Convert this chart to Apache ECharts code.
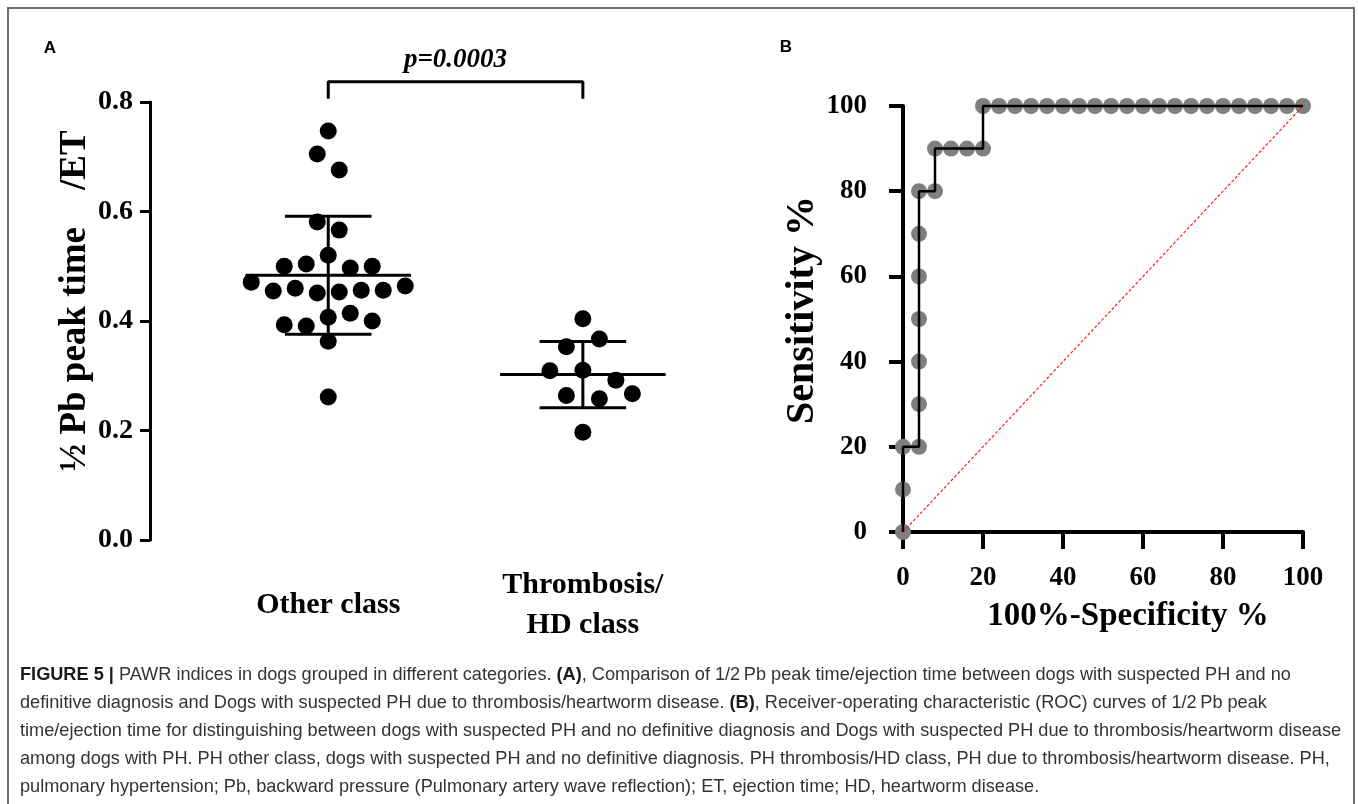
<!DOCTYPE html>
<html><head><meta charset="utf-8">
<script src="https://cdn.jsdelivr.net/npm/echarts@6/dist/echarts.min.js"></script>
<style>html,body{margin:0;padding:0;background:#fff}#c{width:1358px;height:804px}</style>
</head><body><div id="c"></div>
<script>
// ---------- data ----------
const categories = ['Other class', 'Thrombosis/\nHD class'];
const otherValues = [0.747, 0.705, 0.676, 0.581, 0.566, 0.500, 0.504, 0.520, 0.497, 0.500,
  0.471, 0.455, 0.460, 0.451, 0.453, 0.456, 0.456, 0.464,
  0.393, 0.391, 0.407, 0.414, 0.400, 0.363, 0.261];
const thrombosisValues = [0.404, 0.353, 0.367, 0.309, 0.310, 0.292, 0.264, 0.258, 0.267, 0.197];
const yTicksA = [0, 0.2, 0.4, 0.6, 0.8];
const pValueText = 'p=0.0003';
const bracketTop = 0.837;
const bracketFoot = 0.806;

const rocFpr = [0, 0, 0, 4, 4, 4, 4, 4, 4, 4, 8, 8, 12, 16, 20, 20,
  24, 28, 32, 36, 40, 44, 48, 52, 56, 60, 64, 68, 72, 76, 80, 84, 88, 92, 96, 100];
const rocSens = [0, 10, 20, 20, 30, 40, 50, 60, 70, 80, 80, 90, 90, 90, 90, 100,
  100, 100, 100, 100, 100, 100, 100, 100, 100, 100, 100, 100, 100, 100, 100, 100, 100, 100, 100, 100];
const ticksB = [0, 20, 40, 60, 80, 100];
const refLine = [[0, 0], [100, 100]];

const captionLines = [
  '{b|FIGURE 5 |}{n| PAWR indices in dogs grouped in different categories. }{b|(A)}{n|, Comparison of 1/2\u2009Pb peak time/ejection time between dogs with suspected PH and no}',
  '{n|definitive diagnosis and Dogs with suspected PH due to thrombosis/heartworm disease. }{b|(B)}{n|, Receiver-operating characteristic (ROC) curves of 1/2\u2009Pb peak}',
  '{n|time/ejection time for distinguishing between dogs with suspected PH and no definitive diagnosis and Dogs with suspected PH due to thrombosis/heartworm disease}',
  '{n|among dogs with PH. PH other class, dogs with suspected PH and no definitive diagnosis. PH thrombosis/HD class, PH due to thrombosis/heartworm disease. PH,}',
  '{n|pulmonary hypertension; Pb, backward pressure (Pulmonary artery wave reflection); ET, ejection time; HD, heartworm disease.}'
];

// ---------- helpers ----------
const serif = "'Liberation Serif', 'Times New Roman', serif";
function fontAvailable(name) {
  const c = document.createElement('canvas').getContext('2d');
  const t = 'abcdefghijklmnopqrstuvwxyz ABCDEFGHIJ 0123456789';
  c.font = '40px monospace'; const a = c.measureText(t).width;
  c.font = `40px '${name}', monospace`; const b = c.measureText(t).width;
  c.font = '40px serif'; const a2 = c.measureText(t).width;
  c.font = `40px '${name}', serif`; const b2 = c.measureText(t).width;
  return a !== b && a2 !== b2;
}
const capFont = fontAvailable('Liberation Sans Narrow') ? "'Liberation Sans Narrow'" : "'Liberation Sans'";
const capFamily = capFont + ", Arial, sans-serif";
function fitCaptionSize() {
  const c = document.createElement('canvas').getContext('2d');
  const plain = captionLines[2].replace(/\{[a-z]+\|/g, '').replace(/\}/g, '');
  c.font = `20px ${capFamily}`;
  const w = c.measureText(plain).width;
  return Math.max(13, Math.min(21, 20 * 1322 / w));
}
const capSize = fitCaptionSize();

function mean(a) { return a.reduce((s, v) => s + v, 0) / a.length; }
function sd(a) { const m = mean(a); return Math.sqrt(a.reduce((s, v) => s + (v - m) * (v - m), 0) / (a.length - 1)); }

const DOT = 17;
// Row-based beeswarm: pixel scales come from the chart's own axes.
function swarm(values, center, spacingPx, pxX, pxY) {
  const idx = values.map((v, i) => i).sort((a, b) => values[b] - values[a]);
  const rows = [];
  let cur = null;
  idx.forEach(i => {
    const yp = values[i] * pxY;
    if (!cur || cur.start - yp >= DOT) { cur = { start: yp, items: [] }; rows.push(cur); }
    cur.items.push(i);
  });
  const placed = [];
  const out = new Array(values.length);
  rows.forEach(r => {
    r.items.sort((a, b) => a - b);
    const n = r.items.length;
    const base = r.items.map((i, j) => (j - (n - 1) / 2) * spacingPx);
    let shift = 0;
    for (const s of [0, spacingPx / 2, -spacingPx / 2]) {
      let ok = true;
      r.items.forEach((i, j) => {
        const x = base[j] + s, y = values[i] * pxY;
        placed.forEach(p => { if (Math.hypot(p[0] - x, p[1] - y) < DOT + 1) ok = false; });
      });
      if (ok) { shift = s; break; }
    }
    r.items.forEach((i, j) => {
      const x = base[j] + shift;
      placed.push([x, values[i] * pxY]);
      out[i] = [center + x / pxX, values[i]];
    });
  });
  return out;
}

// ---------- chart ----------
const chart = echarts.init(document.getElementById('c'), null, { renderer: 'canvas' });
const boldSerif = (size) => ({ fontFamily: serif, fontWeight: 'bold', fontSize: size, color: '#000' });

const errData = [[1, mean(otherValues), sd(otherValues)], [2, mean(thrombosisValues), sd(thrombosisValues)]];

const option = {
  animation: false,
  backgroundColor: '#fff',
  grid: [
    { left: 150, top: 102, width: 550, height: 438 },
    { left: 903, top: 106, width: 400, height: 426 }
  ],
  xAxis: [
    {
      gridIndex: 0, type: 'value', min: 0.3, max: 2.46,
      axisLine: { show: false }, axisTick: { show: false }, splitLine: { show: false },
      axisLabel: Object.assign(boldSerif(30), {
        customValues: [1, 2], formatter: v => categories[Math.round(v) - 1] || '',
        lineHeight: 40, verticalAlign: 'middle', margin: 65
      })
    },
    {
      gridIndex: 1, type: 'value', min: ticksB[0], max: ticksB[ticksB.length - 1], interval: 20,
      axisLine: { show: true, onZero: false, lineStyle: { color: '#000', width: 4 } },
      axisTick: { show: true, length: 17, lineStyle: { color: '#000', width: 4 } },
      splitLine: { show: false },
      axisLabel: Object.assign(boldSerif(27), { margin: 33 }),
      name: '100%-Specificity %', nameLocation: 'middle', nameGap: 68,
      nameTextStyle: Object.assign(boldSerif(33), { padding: [0, 0, 0, 50] })
    }
  ],
  yAxis: [
    {
      gridIndex: 0, type: 'value', min: yTicksA[0], max: yTicksA[yTicksA.length - 1], interval: 0.2,
      axisLine: { show: true, lineStyle: { color: '#000', width: 3 } },
      axisTick: { show: true, length: 10, lineStyle: { color: '#000', width: 3 } },
      splitLine: { show: false },
      axisLabel: Object.assign(boldSerif(28), { formatter: v => v.toFixed(1), margin: 17 }),
      name: '\u00BD Pb peak time    /ET', nameLocation: 'middle', nameRotate: 90, nameGap: 45,
      nameTextStyle: Object.assign(boldSerif(37), { padding: [0, 0, 0, 40] })
    },
    {
      gridIndex: 1, type: 'value', min: ticksB[0], max: ticksB[ticksB.length - 1], interval: 20,
      axisLine: { show: true, onZero: false, lineStyle: { color: '#000', width: 4 } },
      axisTick: { show: true, length: 14, lineStyle: { color: '#000', width: 4 } },
      splitLine: { show: false },
      axisLabel: Object.assign(boldSerif(27), { margin: 36 }),
      name: 'Sensitivity %', nameLocation: 'middle', nameRotate: 90, nameGap: 73,
      nameTextStyle: Object.assign(boldSerif(40), { padding: [0, 0, 0, 18] })
    }
  ],
  series: [
    { id: 'other', type: 'scatter', xAxisIndex: 0, yAxisIndex: 0, symbolSize: DOT, itemStyle: { color: '#000', opacity: 1 }, data: [], clip: false, z: 2 },
    { id: 'thromb', type: 'scatter', xAxisIndex: 0, yAxisIndex: 0, symbolSize: DOT, itemStyle: { color: '#000', opacity: 1 }, data: [], clip: false, z: 2 },
    {
      type: 'custom', xAxisIndex: 0, yAxisIndex: 0, data: errData, z: 3, clip: false,
      renderItem: (params, api) => {
        const x = api.value(0), m = api.value(1), s = api.value(2);
        const mL = api.coord([x - 0.325, m]), mR = api.coord([x + 0.325, m]);
        const hiL = api.coord([x - 0.17, m + s]), hiR = api.coord([x + 0.17, m + s]);
        const loL = api.coord([x - 0.17, m - s]), loR = api.coord([x + 0.17, m - s]);
        const vt = api.coord([x, m + s]), vb = api.coord([x, m - s]);
        const st = { stroke: '#000', lineWidth: 3 };
        return {
          type: 'group', children: [
            { type: 'line', shape: { x1: mL[0], y1: mL[1], x2: mR[0], y2: mR[1] }, style: st },
            { type: 'line', shape: { x1: hiL[0], y1: hiL[1], x2: hiR[0], y2: hiR[1] }, style: st },
            { type: 'line', shape: { x1: loL[0], y1: loL[1], x2: loR[0], y2: loR[1] }, style: st },
            { type: 'line', shape: { x1: vt[0], y1: vt[1], x2: vb[0], y2: vb[1] }, style: st }
          ]
        };
      }
    },
    {
      type: 'line', xAxisIndex: 0, yAxisIndex: 0, clip: false, symbol: 'none', z: 3,
      lineStyle: { color: '#000', width: 3 },
      data: [[1, bracketFoot], [1, bracketTop], [2, bracketTop], [2, bracketFoot]]
    },
    {
      type: 'scatter', xAxisIndex: 0, yAxisIndex: 0, clip: false, symbolSize: 0.1,
      itemStyle: { color: '#000', opacity: 1 }, z: 6,
      label: {
        show: true, position: 'top', distance: 8, formatter: pValueText, opacity: 1,
        fontFamily: serif, fontWeight: 'bold', fontStyle: 'italic', fontSize: 27, color: '#000'
      },
      data: [[1.5, bracketTop]]
    },
    {
      id: 'rocPts', type: 'scatter', xAxisIndex: 1, yAxisIndex: 1, clip: false, symbolSize: 16,
      itemStyle: { color: '#7f7f7f', opacity: 1 }, z: 2,
      data: rocFpr.map((x, i) => [x, rocSens[i]])
    },
    {
      type: 'line', xAxisIndex: 1, yAxisIndex: 1, clip: false, symbol: 'none', z: 4,
      lineStyle: { color: '#ff1a1a', width: 1.2, type: [3, 2] },
      data: refLine
    },
    {
      type: 'line', xAxisIndex: 1, yAxisIndex: 1, clip: false, symbol: 'none', z: 5,
      lineStyle: { color: '#000', width: 2.5 },
      data: rocFpr.map((x, i) => [x, rocSens[i]])
    }
  ],
  graphic: [
    { type: 'rect', silent: true, z: 0, shape: { x: 8, y: 8, width: 1346, height: 840 },
      style: { fill: 'none', stroke: '#6e6e6e', lineWidth: 2 } },
    { type: 'text', x: 50, y: 48, style: { text: 'A', font: "bold 17px 'Liberation Sans', Arial, sans-serif", fill: '#000', textAlign: 'center', textVerticalAlign: 'middle' } },
    { type: 'text', x: 786, y: 47, style: { text: 'B', font: "bold 17px 'Liberation Sans', Arial, sans-serif", fill: '#000', textAlign: 'center', textVerticalAlign: 'middle' } },
    {
      type: 'text', x: 20, y: 661,
      style: {
        text: captionLines.join('\n'),
        fontSize: capSize, fontFamily: capFamily, lineHeight: 28, fill: '#333',
        rich: {
          n: { fontSize: capSize, fontFamily: capFamily, lineHeight: 28, fill: '#333' },
          b: { fontSize: capSize, fontFamily: capFamily, fontWeight: 'bold', lineHeight: 28, fill: '#1a1a1a' }
        }
      }
    }
  ]
};
chart.setOption(option);

// beeswarm layout through the chart's own scales
const p0 = chart.convertToPixel({ gridIndex: 0 }, [0, 0]);
const p1 = chart.convertToPixel({ gridIndex: 0 }, [1, 1]);
const pxX = p1[0] - p0[0];
const pxY = p0[1] - p1[1];
chart.setOption({
  series: [
    { id: 'other', data: swarm(otherValues, 1, 22, pxX, pxY) },
    { id: 'thromb', data: swarm(thrombosisValues, 2, 33, pxX, pxY) }
  ]
});
</script>
</body></html>
